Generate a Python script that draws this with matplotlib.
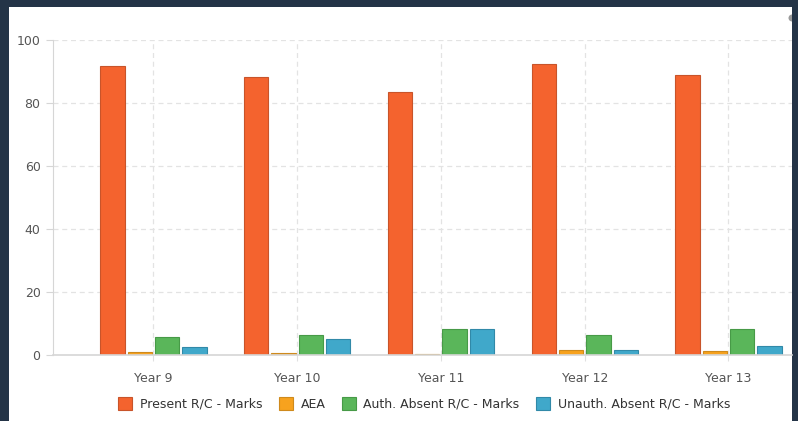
import matplotlib
matplotlib.use('Agg')
import matplotlib.pyplot as plt
from matplotlib.patches import Rectangle, Wedge
import numpy as np

# Data
years = ['Year 9', 'Year 10', 'Year 11', 'Year 12', 'Year 13']
present = [91.7, 88.3, 83.5, 92.4, 88.8]
aea = [1.0, 0.5, 0.4, 1.6, 1.3]
auth_absent = [5.6, 6.4, 8.2, 6.2, 8.3]
unauth_absent = [2.6, 5.0, 8.4, 1.5, 3.0]

series = [
    ('Present R/C - Marks', present, '#F4632E', '#C8542A'),
    ('AEA', aea, '#F7A21E', '#CF8A1C'),
    ('Auth. Absent R/C - Marks', auth_absent, '#5AB65A', '#479A47'),
    ('Unauth. Absent R/C - Marks', unauth_absent, '#40A8CA', '#3189A8'),
]

# Plot function
def Plot():
    fig = plt.figure(figsize=(7.98, 4.21), dpi=100)
    fig.patch.set_facecolor('#243447')

    # white panel inside the dark frame
    fig.patches.append(Rectangle((9 / 798, 0), (792 - 9) / 798, 1 - 7 / 421,
                                 transform=fig.transFigure, facecolor='white',
                                 edgecolor='none', zorder=-10))
    # little grey scroll knob peeking in at the top right
    fig.patches.append(Wedge((792, 421 - 18), 3.5, 90, 270, transform=None,
                             facecolor='#9A9A9A', edgecolor='none', zorder=-5))

    ax = fig.add_axes([53 / 798, 1 - 355 / 421, (792 - 53) / 798, 315 / 421])
    ax.set_facecolor('none')
    ax.set_zorder(1)

    x = np.arange(len(years))
    width = 0.169
    step = 0.19
    for i, (name, vals, color, edge) in enumerate(series):
        ax.bar(x + (i - 1.5) * step, vals, width, color=color, edgecolor=edge,
               linewidth=0.8, label=name, zorder=3)

    ax.set_xlim(-0.699, 4.442)
    ax.set_ylim(0, 100)
    ax.set_yticks([0, 20, 40, 60, 80, 100])
    ax.set_xticks(x)
    ax.set_xticklabels(years)

    # grid
    ax.grid(True, color='#E3E3E3', linestyle=(0, (4, 3)), linewidth=0.9, zorder=0)

    for side in ['top', 'right']:
        ax.spines[side].set_visible(False)
    ax.spines['left'].set_color('#D6D6D6')
    ax.spines['bottom'].set_color('#D6D6D6')
    ax.spines['bottom'].set_linewidth(1.2)
    ax.spines['bottom'].set_zorder(4)

    ax.tick_params(axis='y', colors='#D6D6D6', labelcolor='#555555', labelsize=9,
                   length=5, pad=4)
    ax.tick_params(axis='x', colors='#E0E0E0', labelcolor='#555555', labelsize=9,
                   length=4, pad=8)

    # legend
    fig.legend(loc='center', bbox_to_anchor=(424 / 798, 1 - 404 / 421), ncol=4,
               frameon=False, fontsize=9, handlelength=1.15, handleheight=1.15,
               handletextpad=0.6, columnspacing=1.3, labelcolor='#333333')

    fig.savefig('out.png', dpi=100, facecolor=fig.get_facecolor())

# Main function
def main():
    Plot()

if __name__ == "__main__":
    main()
